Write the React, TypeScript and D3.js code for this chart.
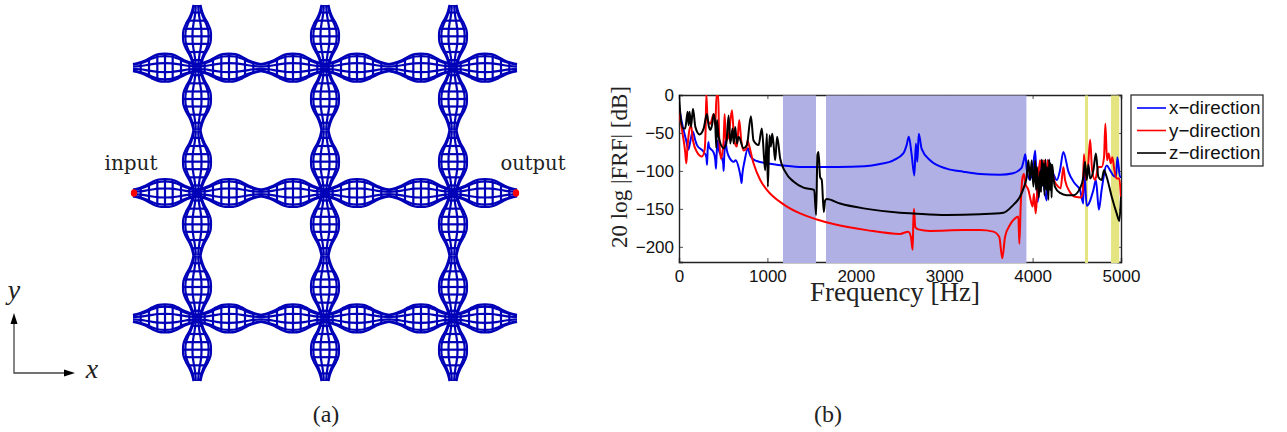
import React, { useEffect, useRef } from 'react';
import * as d3 from 'd3';

const WIDTH = 1287;
const HEIGHT = 432;

// FRF curves, [frequency Hz, dB]
const xDirection: [number, number][] = [
  [0, -15], [30, -35], [60, -50], [85, -62], [105, -72], [130, -60], [155, -48], [185, -60], [203, -66], [280, -75],
  [310, -82], [317, -92], [323, -75], [332, -62], [340, -68], [392, -76], [410, -85], [418, -97], [425, -80], [437, -60],
  [450, -72], [482, -82], [500, -90], [505, -100], [512, -80], [525, -60], [540, -72], [560, -80], [620, -88], [640, -86],
  [680, -98], [700, -110], [708, -116], [716, -105], [740, -88], [780, -70], [800, -78], [830, -84], [880, -87], [994, -90],
  [1182, -93], [1400, -95], [1800, -95], [2100, -94], [2274, -91], [2425, -86], [2537, -77], [2575, -66], [2600, -55], [2632, -79],
  [2662, -106], [2680, -64], [2696, -88], [2712, -51], [2745, -71], [2840, -86], [3027, -97], [3216, -101], [3405, -104], [3630, -105],
  [3780, -103], [3875, -96], [3900, -86], [3918, -78], [3933, -97], [3970, -112], [4000, -99], [4030, -73], [4057, -141], [4084, -108],
  [4100, -86], [4120, -112], [4160, -139], [4170, -86], [4235, -104], [4275, -112], [4310, -99], [4348, -75], [4405, -101], [4480, -117],
  [4536, -125], [4574, -143], [4581, -90], [4612, -146], [4688, -125], [4716, -112], [4750, -151], [4781, -125], [4838, -93], [4875, -99],
  [4913, -106], [4943, -108], [4959, -82], [4989, -108], [5000, -108],
];

const yDirection: [number, number][] = [
  [0, -20], [34, -46], [70, -75], [83, -90], [95, -70], [109, -53], [136, -40], [158, -60], [203, -75], [260, -81],
  [290, -72], [300, -50], [309, 0], [316, -15], [324, -33], [354, -38], [392, -25], [410, -40], [425, 0], [444, 0],
  [452, -46], [474, -84], [495, -72], [505, -60], [516, -25], [530, -60], [560, -55], [599, -20], [625, -60], [655, -68],
  [681, -33], [704, -60], [730, -73], [760, -71], [776, -60], [787, -64], [843, -90], [919, -112], [994, -125], [1182, -144],
  [1370, -156], [1559, -164], [1747, -170], [2123, -178], [2500, -183], [2594, -180], [2624, -187], [2643, -204], [2651, -165], [2658, -150],
  [2673, -174], [2707, -177], [2840, -179], [3216, -178], [3405, -178], [3555, -180], [3623, -187], [3657, -215], [3688, -187], [3745, -171],
  [3820, -161], [3839, -160], [3850, -196], [3865, -147], [3884, -110], [3903, -104], [3918, -117], [3952, -125], [3970, -134], [4000, -147],
  [4015, -130], [4035, -156], [4054, -125], [4084, -86], [4110, -104], [4129, -86], [4152, -121], [4170, -86], [4196, -108], [4215, -95],
  [4242, -112], [4291, -121], [4317, -123], [4348, -95], [4367, -112], [4423, -128], [4480, -134], [4548, -135], [4566, -129], [4581, -78],
  [4604, -112], [4627, -95], [4651, -59], [4673, -99], [4707, -112], [4744, -95], [4781, -95], [4808, -82], [4823, -38], [4842, -86],
  [4861, -77], [4883, -90], [4902, -82], [4925, -99], [4951, -110], [4981, -110], [5000, -136],
];

const zDirection: [number, number][] = [
  [0, 0], [15, -25], [45, -44], [70, -44], [98, -22], [109, -40], [120, -22], [136, -42], [158, -18], [185, -42],
  [233, -52], [279, -44], [316, -25], [335, -40], [354, -46], [373, -40], [392, -25], [410, -38], [422, -70], [429, -33],
  [448, -55], [505, -70], [535, -64], [561, -27], [580, -64], [606, -44], [618, -64], [636, -42], [655, -64], [674, -55],
  [730, -70], [768, -66], [813, -28], [843, -60], [900, -66], [937, -44], [964, -86], [975, -99], [994, -51], [1005, -121],
  [1024, -53], [1039, -68], [1054, -51], [1069, -64], [1088, -86], [1110, -55], [1145, -84], [1201, -101], [1295, -114], [1408, -122],
  [1529, -125], [1551, -158], [1566, -79], [1578, -75], [1596, -108], [1615, -112], [1638, -154], [1653, -139], [1672, -137], [1822, -143],
  [2123, -150], [2500, -155], [2651, -156], [3027, -158], [3405, -157], [3670, -155], [3780, -145], [3857, -134], [3903, -121], [3933, -108],
  [3952, -86], [3971, -112], [3990, -86], [4009, -121], [4028, -86], [4039, -125], [4050, -95], [4070, -135], [4085, -100], [4095, -128],
  [4105, -85], [4115, -120], [4125, -90], [4135, -132], [4145, -85], [4155, -125], [4165, -95], [4178, -138], [4188, -85], [4198, -125],
  [4205, -90], [4215, -135], [4222, -92], [4235, -108], [4253, -121], [4310, -129], [4386, -132], [4461, -132], [4536, -123], [4574, -108],
  [4593, -88], [4612, -112], [4631, -92], [4651, -110], [4688, -99], [4716, -77], [4744, -108], [4781, -112], [4808, -99], [4838, -108],
  [4895, -134], [4951, -156], [4981, -166], [5000, -134],
];

const seriesNames = ['x\u2212direction', 'y\u2212direction', 'z\u2212direction'];
const seriesColors = ['#0000ff', '#ff0000', '#000000'];
const allSeries = [xDirection, yDirection, zDirection];

const blueBands: [number, number][] = [[1176, 1550], [1663, 3930]];
const yellowBands: [number, number][] = [[4593, 4627], [4887, 4980]];

const freqTicks = [0, 1000, 2000, 3000, 4000, 5000];
const dbTicks = [0, -50, -100, -150, -200];

// panel (a): the lattice, in half-cell units; even = neck, odd = junction
const beamLines = [1, 3, 5];
const halfCells = [0, 1, 2, 3, 4, 5];
const lobeT = [0, 0.1, 0.2, 0.3, 0.4, 0.5, 0.6, 0.7, 0.8, 0.9, 1];
const lobeHalf = [3.5, 5, 7.5, 11, 13.5, 14, 13.5, 11, 7.5, 5, 3.5];
const stripFactors = [1, 0.83, 0.32, -0.32, -0.83, -1];
const crossT = [0.12, 0.25, 0.38, 0.5, 0.62, 0.75, 0.88];

export default function App() {
  const svgRef = useRef<SVGSVGElement>(null);

  useEffect(() => {
    const svg = d3.select(svgRef.current).html('');
    const serif = '"Liberation Serif", serif';
    const sans = '"Liberation Sans", sans-serif';

    // ---- panel (a)
    const gx = d3.scaleLinear().domain([0, 6]).range([133, 517]);
    const gy = d3.scaleLinear().domain([0, 6]).range([5, 381]);
    const hw = d3.scaleLinear().domain(lobeT).range(lobeHalf);
    const lattice = svg.append('g').attr('fill', 'none').attr('stroke', '#0000b8').attr('stroke-width', 2.2);

    const drawLobe = (pos: (t: number, off: number) => [number, number]) => {
      const line = d3.line<[number, number]>().curve(d3.curveCatmullRom);
      stripFactors.forEach(f => {
        lattice.append('path').attr('d', line(lobeT.map((t, i) => pos(t, lobeHalf[i] * f))));
      });
      crossT.forEach(t => {
        lattice.append('path').attr('d', d3.line()([pos(t, -hw(t)), pos(t, hw(t))]));
      });
    };

    beamLines.forEach(r => {
      halfCells.forEach(c => {
        drawLobe((t, off) => [gx(c + t), gy(r) + off]);
        drawLobe((t, off) => [gx(r) + off, gy(c + t)]);
      });
    });

    [0, 6].forEach(c => {
      svg.append('ellipse').attr('cx', gx(c) + (c ? -1 : 1)).attr('cy', gy(3)).attr('rx', 3.2).attr('ry', 3.8).attr('fill', '#ff0000');
    });

    const addText = (x: number, y: number, s: string, size: number, anchor = 'middle', italic = false, family = serif) =>
      svg.append('text').attr('x', x).attr('y', y).attr('text-anchor', anchor)
        .attr('font-family', family).attr('font-size', size)
        .attr('font-style', italic ? 'italic' : 'normal').attr('fill', '#222').text(s);

    const dejavu = '"DejaVu Serif", serif';
    addText(131, 170, 'input', 20, 'middle', false, dejavu).attr('font-weight', 200);
    addText(533, 170, 'output', 19.5, 'middle', false, dejavu).attr('font-weight', 200);
    addText(326, 422, '(a)', 24);
    addText(828, 422, '(b)', 24);
    addText(14, 299, 'y', 28, 'middle', true);
    addText(92, 378, 'x', 28, 'middle', true);

    // coordinate arrows
    const arrow = d3.line();
    svg.append('path').attr('d', arrow([[14, 320], [14, 373], [66, 373]]))
      .attr('fill', 'none').attr('stroke', '#444').attr('stroke-width', 1.3);
    svg.append('path').attr('d', arrow([[14, 313], [10.5, 324], [17.5, 324]])).attr('fill', '#000');
    svg.append('path').attr('d', arrow([[75, 373], [64, 369.5], [64, 376.5]])).attr('fill', '#000');

    // ---- panel (b)
    const x = d3.scaleLinear().domain([0, 5000]).range([679, 1121]);
    const y = d3.scaleLinear().domain([-220, 0]).range([262, 95]);

    const styleAxis = (g: any) => {
      g.selectAll('path').attr('stroke', '#222').attr('stroke-width', 1.4);
      g.selectAll('line').attr('stroke', '#222').attr('stroke-width', 0.8);
      g.selectAll('text').attr('font-family', sans).attr('font-size', 17).attr('fill', '#111');
    };
    const fmt = (d: any) => String(d).replace('-', '\u2212');
    svg.append('g').attr('transform', 'translate(0,262)')
      .call(d3.axisBottom(x).tickValues(freqTicks).tickSize(-4).tickPadding(8).tickFormat(fmt)).call(styleAxis);
    svg.append('g').attr('transform', 'translate(679,0)')
      .call(d3.axisLeft(y).tickValues(dbTicks).tickSize(-4).tickPadding(5).tickFormat(fmt)).call(styleAxis);
    svg.append('g').attr('transform', 'translate(0,95)')
      .call(d3.axisTop(x).tickValues(freqTicks).tickSize(-4).tickFormat(() => '')).call(styleAxis);
    svg.append('g').attr('transform', 'translate(1121,0)')
      .call(d3.axisRight(y).tickValues(dbTicks).tickSize(-4).tickFormat(() => '')).call(styleAxis);

    const addBands = (bands: [number, number][], color: string) => {
      svg.append('g').selectAll('rect').data(bands).enter().append('rect')
        .attr('x', d => x(d[0]))
        .attr('width', d => x(d[1]) - x(d[0]))
        .attr('y', y(0) + 0.5)
        .attr('height', y(-220) - y(0) + 0.5)
        .attr('fill', color);
    };
    addBands(blueBands, '#b0b0e4');
    addBands(yellowBands, '#e4e480');

    svg.append('clipPath').attr('id', 'plot').append('rect')
      .attr('x', x(0)).attr('y', y(0)).attr('width', x(5000) - x(0)).attr('height', y(-220) - y(0));
    const curve = d3.line<[number, number]>().x(d => x(d[0])).y(d => y(d[1])).curve(d3.curveMonotoneX);
    allSeries.forEach((s, i) => {
      svg.append('path').datum(s).attr('d', curve).attr('clip-path', 'url(#plot)')
        .attr('fill', 'none').attr('stroke', seriesColors[i]).attr('stroke-width', 2).attr('stroke-linejoin', 'round');
    });

    // axis titles
    addText(895, 301, 'Frequency [Hz]', 27);
    svg.append('text').attr('transform', 'translate(627,167) rotate(-90)').attr('text-anchor', 'middle')
      .attr('font-family', serif).attr('font-size', 23).attr('fill', '#222').text('20 log |FRF| [dB]');

    // legend
    const legend = svg.append('g');
    legend.append('rect').attr('x', 1131).attr('y', 95).attr('width', 132).attr('height', 71)
      .attr('fill', '#fff').attr('stroke', '#222').attr('stroke-width', 1.2);
    const ly = d3.scalePoint().domain(seriesNames).range([108, 153]);
    seriesNames.forEach((name, i) => {
      legend.append('path').attr('d', arrow([[1137, ly(name)!], [1166, ly(name)!]]))
        .attr('stroke', seriesColors[i]).attr('stroke-width', 1.6);
      legend.append('text').attr('x', 1169).attr('y', ly(name)! + 6).attr('font-family', sans)
        .attr('font-size', 18.8).attr('fill', '#111').text(name);
    });
  }, []);

  return <svg ref={svgRef} width={WIDTH} height={HEIGHT} style={{ position: 'absolute', left: 0, top: 0, background: '#fff' }} />;
}
